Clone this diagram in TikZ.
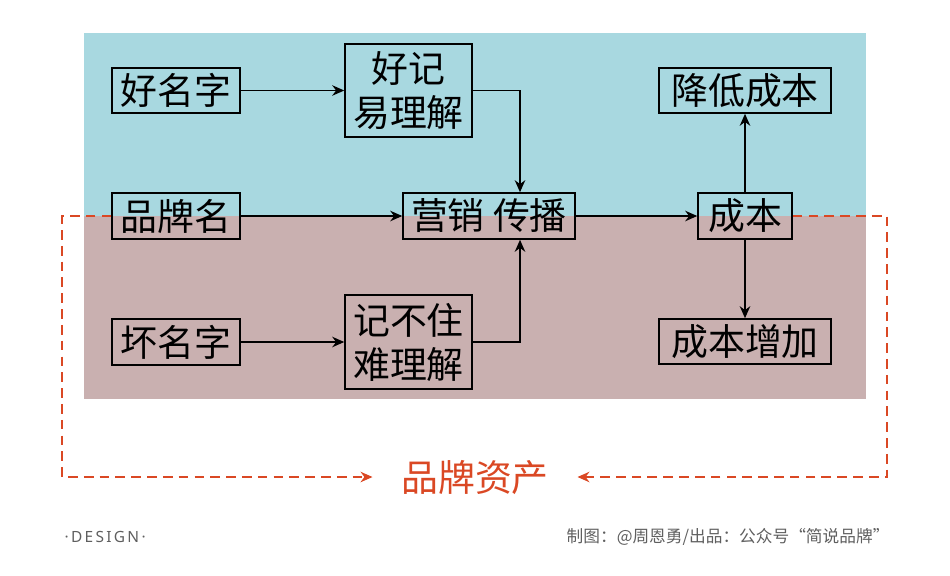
\documentclass[tikz,border=0pt]{standalone}
\usepackage{fontspec}
\usepackage{xcolor}
\setmainfont{Noto Sans CJK SC}
\newfontfamily\designfont[LetterSpace=15]{Noto Sans}
\usetikzlibrary{arrows.meta}
\definecolor{bluearea}{RGB}{168,216,224}
\definecolor{pinkarea}{RGB}{201,176,176}
\definecolor{assetred}{RGB}{218,72,36}
\definecolor{footgray}{RGB}{95,95,95}
\newcommand{\boxfont}{\fontsize{21}{25}\selectfont}

\begin{document}
\begin{tikzpicture}
      [x=0.02cm, y=-0.02cm, line width=0.8pt,
       box/.style={draw, line width=0.9pt, inner sep=0pt, font=\boxfont},
       flow/.style={-{Stealth[length=2.4mm,width=2.1mm]}},
       loopline/.style={assetred, line width=0.9pt, dash pattern=on 5.5pt off 3.5pt,
         -{Stealth[length=2.4mm,width=2.1mm]}}]
      \useasboundingbox (0,0) rectangle (950,575);
      \fill[bluearea] (84,33) rectangle (866,216);
      \fill[pinkarea] (84,216) rectangle (866,399);
      % left column
      \node[box, minimum width=2.56cm, minimum height=0.9cm] (good) at (176,90.5) {好名字};
      \node[box, minimum width=2.56cm, minimum height=0.92cm] (brand) at (176,216) {品牌名};
      \node[box, minimum width=2.56cm, minimum height=0.92cm] (bad) at (176,342) {坏名字};
      % middle
      \node[box, align=center, minimum width=2.54cm, minimum height=1.86cm] (easy) at (408.5,90.5) {好记\\易理解};
      \node[box, align=center, minimum width=2.54cm, minimum height=1.88cm] (hard) at (408.5,342) {记不住\\难理解};
      \node[box, minimum width=3.44cm, minimum height=0.92cm] (spread) at (489,216) {营销 传播};
      % right
      \node[box, minimum width=1.88cm, minimum height=0.92cm] (cost) at (745,216) {成本};
      \node[box, minimum width=3.44cm, minimum height=0.9cm] (lower) at (745,90.5) {降低成本};
      \node[box, minimum width=3.44cm, minimum height=0.9cm] (raise) at (745,341.5) {成本增加};
      \coordinate (join) at (520,216);
      \draw[flow] (good) -- (easy);
      \draw[flow] (bad) -- (hard);
      \draw[flow] (easy.east) -| (join |- spread.north);
      \draw[flow] (hard.east) -| (join |- spread.south);
      \draw[flow] (brand) -- (spread);
      \draw[flow] (spread) -- (cost);
      \draw[flow] (cost) -- (lower);
      \draw[flow] (cost) -- (raise);
      % brand asset loop
      \node[text=assetred, font=\boxfont, inner xsep=0.56cm, inner ysep=0pt] (asset) at (475,478) {品牌资产};
      \coordinate (lcorner) at (62,477);
      \coordinate (rcorner) at (887,477);
      \draw[loopline] (brand.west) -| (lcorner) -- (asset.west |- lcorner);
      \draw[loopline] (cost.east) -| (rcorner) -- (asset.east |- rcorner);
      % footer
      \node[anchor=west, text=footgray, font=\designfont\fontsize{8.8}{11}\selectfont] (design) at (58,537) {·DESIGN·};
      \node[anchor=east, text=footgray, font=\fontsize{9.5}{12}\selectfont] (credit) at (896,537) {制图：@周恩勇/出品：公众号“简说品牌”};
\end{tikzpicture}
\end{document}
